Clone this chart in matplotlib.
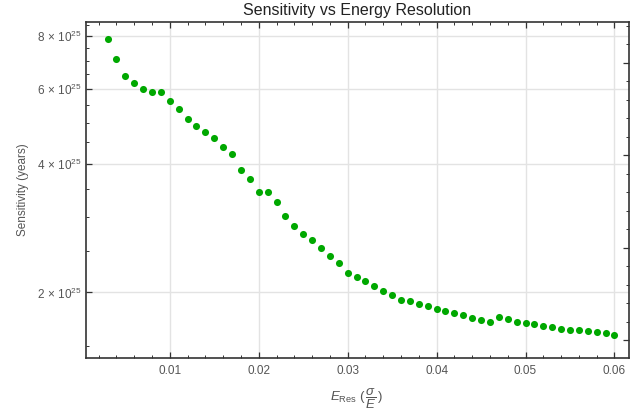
import numpy as np
import matplotlib
matplotlib.use('Agg')
import matplotlib.pyplot as plt
from matplotlib.ticker import FixedLocator, MultipleLocator, NullFormatter, FuncFormatter

plt.rcParams['font.family'] = ['Liberation Sans', 'DejaVu Sans']
plt.rcParams['mathtext.fontset'] = 'custom'
plt.rcParams['mathtext.rm'] = 'Liberation Sans'
plt.rcParams['mathtext.it'] = 'Liberation Sans:italic'
plt.rcParams['mathtext.bf'] = 'Liberation Sans:bold'

# energy resolution (sigma/E)
e_res = [0.003, 0.004, 0.005, 0.006, 0.007, 0.008, 0.009, 0.010, 0.011, 0.012,
         0.013, 0.014, 0.015, 0.016, 0.017, 0.018, 0.019, 0.020, 0.021, 0.022,
         0.023, 0.024, 0.025, 0.026, 0.027, 0.028, 0.029, 0.030, 0.031, 0.032,
         0.033, 0.034, 0.035, 0.036, 0.037, 0.038, 0.039, 0.040, 0.041, 0.042,
         0.043, 0.044, 0.045, 0.046, 0.047, 0.048, 0.049, 0.050, 0.051, 0.052,
         0.053, 0.054, 0.055, 0.056, 0.057, 0.058, 0.059, 0.060]
# sensitivity in units of 1e25 years
sens_1e25 = [7.86, 7.07, 6.46, 6.22, 6.02, 5.90, 5.90, 5.62, 5.38, 5.10,
             4.92, 4.76, 4.60, 4.39, 4.23, 3.88, 3.69, 3.45, 3.45, 3.26,
             3.03, 2.86, 2.74, 2.65, 2.54, 2.44, 2.35, 2.22, 2.17, 2.13,
             2.07, 2.015, 1.97, 1.92, 1.905, 1.874, 1.854, 1.828, 1.808, 1.789,
             1.769, 1.740, 1.727, 1.708, 1.755, 1.734, 1.708, 1.696, 1.685, 1.672,
             1.663, 1.645, 1.636, 1.633, 1.622, 1.613, 1.610, 1.592]
y_major = [2, 4, 6, 8]
y_minor = [1.5, 2.5, 3, 3.5, 4.5, 5, 5.5, 6.5, 7, 7.5, 8.5]

x = np.array(e_res)
y = np.array(sens_1e25) * 1e25

fig = plt.figure(figsize=(6.43, 4.16), dpi=100)
ax = fig.add_axes([0.1333, 0.1401, 0.8445, 0.8063])

ax.scatter(x, y, s=26, color='#00a800', zorder=3, linewidths=0)

ax.set_yscale('log')
ax.set_xlim(0.00055, 0.0616)
ax.set_ylim(1.405e25, 8.62e25)

ax.yaxis.set_major_locator(FixedLocator([v * 1e25 for v in y_major]))
ax.yaxis.set_minor_locator(FixedLocator([v * 1e25 for v in y_minor]))
ax.yaxis.set_major_formatter(FuncFormatter(lambda v, p: r'$%d\,\times\,10^{25}$' % round(v / 1e25)))
ax.yaxis.set_minor_formatter(NullFormatter())

ax.xaxis.set_major_locator(MultipleLocator(0.01))
ax.xaxis.set_minor_locator(MultipleLocator(0.002))
ax.xaxis.set_major_formatter(FuncFormatter(lambda v, p: '%.2f' % v))

ax.grid(True, which='major', color='#e3e3e3', linewidth=1.0)
ax.set_axisbelow(True)

ax.tick_params(axis='x', which='both', direction='in', top=True, bottom=True,
               colors='#333333', labelcolor='#555555', labelsize=8.5, pad=5)
ax.tick_params(axis='y', which='both', direction='in', left=True, right=False,
               colors='#333333', labelcolor='#555555', labelsize=8.5, pad=3)
ax.tick_params(which='major', length=4.5, width=0.9)
ax.tick_params(which='minor', length=2.5, width=0.7)

for sp in ax.spines.values():
    sp.set_color('#333333')
    sp.set_linewidth(1.2)

# right frame ticks (natural log spacing, no labels)
ax2 = ax.twinx()
ax2.set_ylim(np.log(1.405e25), np.log(8.62e25))
ax2.yaxis.set_major_locator(MultipleLocator(0.5))
ax2.yaxis.set_minor_locator(MultipleLocator(0.1))
ax2.yaxis.set_major_formatter(NullFormatter())
ax2.tick_params(axis='y', which='both', direction='in', colors='#333333')
ax2.tick_params(which='major', length=4.5, width=0.9)
ax2.tick_params(which='minor', length=2.5, width=0.7)
for sp in ax2.spines.values():
    sp.set_visible(False)

ax.set_title('Sensitivity vs Energy Resolution', fontsize=11.5, color='#222222', pad=5)
ax.set_ylabel('Sensitivity (years)', fontsize=8.5, color='#555555', labelpad=6)
ax.set_xlabel(r'$E_{\mathrm{Res}}\ (\,\dfrac{\sigma}{E}\,)$', fontsize=9.5, color='#555555')
ax.xaxis.label.set_va('center')
ax.xaxis.set_label_coords(0.5, -0.122)

fig.savefig('out.png', dpi=100)
